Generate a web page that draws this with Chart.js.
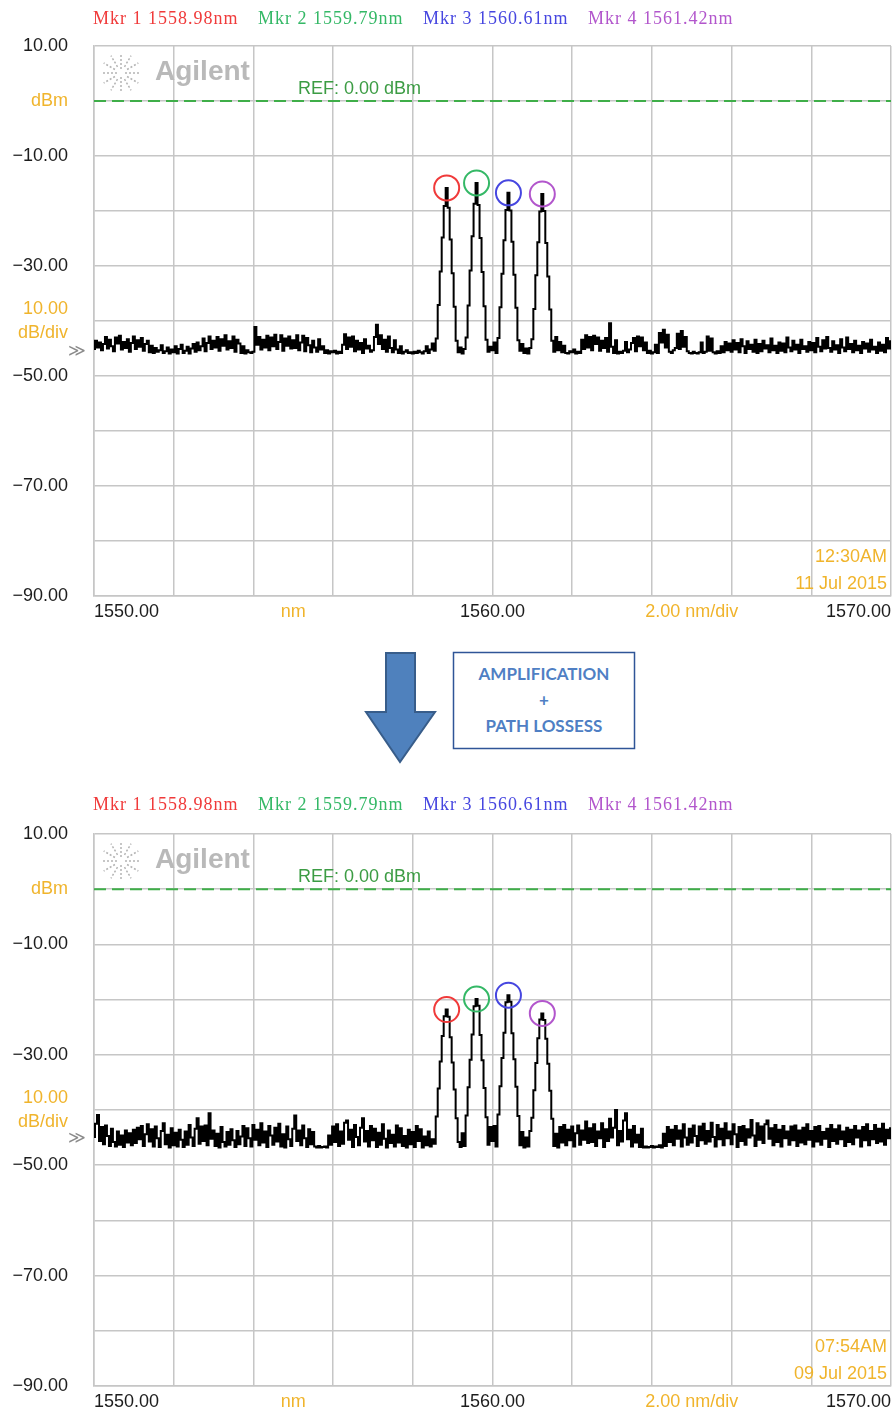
<!DOCTYPE html>
<html lang="en">
<head>
<meta charset="UTF-8">
<title>OSA spectra before / after</title>
<script src="https://cdn.jsdelivr.net/npm/chart.js"></script>
<style>
    body {
        margin: 0;
        width: 893px;
        height: 1414px;
        position: relative;
        overflow: hidden;
        background: #fff;
        font-family: 'Liberation Sans', Arial, sans-serif;
    }
    .panel {
        position: absolute;
        left: 0;
        width: 893px;
    }
    .panel canvas {
        display: block;
    }
    .mkr {
        position: absolute;
        font-family: 'Liberation Serif', serif;
        font-size: 18px;
        letter-spacing: 1px;
        line-height: 20px;
        white-space: nowrap;
    }
    #between {
        position: absolute;
        left: 0;
        top: 640px;
    }
</style>
</head>
<body>
<div class="panel" id="panel-before" style="top:0;height:630px">
    <canvas id="before" width="893" height="630"></canvas>
</div>
<svg id="between" width="893" height="140" viewBox="0 640 893 140">
    <polygon points="386,653 415,653 415,712 435,712 400,762 366,712 386,712"
             fill="#4f81bd" stroke="#385d8a" stroke-width="2"/>
    <rect x="453.5" y="652.5" width="181" height="96" fill="#fff" stroke="#2f5597" stroke-width="1.5"/>
    <g font-family="Lato, 'Open Sans', sans-serif" font-weight="700" font-size="17" fill="#4f7fc4" text-anchor="middle">
        <text x="544" y="680">AMPLIFICATION</text>
        <text x="544" y="706">+</text>
        <text x="544" y="732">PATH LOSSESS</text>
    </g>
</svg>
<div class="panel" id="panel-after" style="top:788px;height:626px">
    <canvas id="after" width="893" height="626"></canvas>
</div>

<script>
    // wavelength axis of the traces (nm)
    const wavelengthStart = 1550;
    const wavelengthStep = 0.05;

    // trace before amplification, dBm, one row per nm
    const traceBefore = [
        -45.1, -43.6, -44.8, -43.9, -45.3, -44.2, -42.9, -45.0, -43.4, -44.6, -45.5, -43.0, -44.1, -42.7, -45.2, -43.8, -44.9, -43.3, -45.6, -44.0,
        -42.8, -45.1, -43.5, -44.7, -43.1, -45.4, -44.2, -43.6, -45.7, -44.5, -45.8, -44.9, -45.6, -45.3, -44.4, -45.8, -45.5, -44.8, -45.9, -45.2,
        -45.7, -44.6, -45.9, -45.1, -44.3, -45.8, -45.4, -44.7, -45.9, -45.0, -44.2, -45.6, -43.9, -45.3, -44.6, -43.2, -45.5, -44.0, -42.8, -45.1,
        -43.6, -44.8, -42.9, -45.4, -43.3, -44.5, -42.6, -45.2, -43.7, -44.9, -42.8, -45.6, -43.4, -44.1, -45.8, -44.6, -45.9, -45.3, -45.7, -45.8,
        -45.6, -41.1, -44.3, -42.9, -45.2, -43.4, -44.8, -42.7, -45.3, -43.0, -44.6, -42.5, -45.1, -43.8, -42.6, -45.4, -43.2, -44.5, -42.8, -45.0,
        -43.5, -44.9, -42.6, -45.3, -43.9, -42.7, -45.5, -43.1, -44.4, -45.7, -43.6, -44.8, -45.6, -43.3, -45.2, -44.6, -45.8, -45.3, -45.9, -45.5,
        -45.7, -45.4, -45.9, -45.6, -45.8, -44.3, -42.4, -45.1, -43.0, -44.7, -42.8, -45.5, -43.6, -45.2, -44.0, -45.8, -43.3, -45.0, -44.5, -45.6,
        -45.3, -42.9, -40.7, -44.2, -42.6, -45.1, -43.4, -45.6, -42.8, -44.9, -45.7, -43.5, -45.2, -45.8, -44.6, -45.9, -45.6, -45.3, -45.8, -45.7,
        -45.9, -45.6, -45.8, -45.4, -45.7, -45.9, -45.5, -44.6, -45.8, -45.2, -44.1, -45.4, -43.2, -37.1, -31.0, -24.8, -19.1, -15.8, -19.4, -25.2,
        -31.3, -37.4, -43.6, -45.7, -44.8, -45.9, -45.1, -43.0, -37.2, -30.8, -24.6, -18.7, -14.9, -18.9, -24.9, -31.1, -37.3, -43.4, -45.6, -44.7,
        -45.3, -43.9, -45.8, -43.1, -37.5, -31.4, -25.3, -19.8, -16.7, -19.9, -25.6, -31.6, -37.6, -43.5, -45.4, -44.2, -45.8, -45.0, -45.9, -44.9,
        -43.3, -37.8, -31.7, -25.7, -20.1, -16.9, -20.0, -25.8, -31.9, -37.9, -43.6, -45.6, -42.9, -45.3, -43.8, -45.7, -44.5, -45.8, -45.9, -45.5,
        -45.7, -45.2, -45.9, -45.6, -45.8, -43.4, -45.1, -42.6, -44.8, -42.9, -45.3, -42.7, -44.2, -43.0, -45.4, -43.6, -44.9, -43.1, -45.6, -40.4,
        -44.7, -45.8, -43.5, -45.9, -45.6, -45.8, -45.4, -43.8, -45.7, -45.2, -44.0, -43.1, -45.5, -42.8, -44.6, -43.0, -45.3, -43.9, -45.8, -45.4,
        -45.9, -45.7, -44.3, -45.8, -42.2, -43.9, -41.6, -44.8, -42.5, -45.6, -45.8, -45.3, -44.9, -42.3, -45.1, -41.8, -44.7, -42.9, -45.5, -45.8,
        -45.9, -45.6, -45.8, -45.9, -45.7, -43.9, -45.8, -45.6, -42.8, -45.4, -43.2, -45.7, -45.9, -45.5, -45.8, -44.6, -45.7, -43.8, -45.3, -44.1,
        -45.6, -43.5, -45.2, -44.0, -45.7, -43.3, -44.6, -45.8, -43.7, -45.1, -44.3, -45.6, -43.4, -45.8, -44.2, -45.5, -43.6, -45.0, -44.4, -45.7,
        -43.2, -45.3, -44.5, -45.8, -43.9, -45.4, -44.1, -45.7, -43.0, -44.8, -45.5, -43.6, -45.2, -44.3, -45.8, -43.4, -45.1, -44.6, -45.6, -43.8,
        -45.3, -44.0, -45.7, -43.1, -44.7, -45.5, -43.5, -45.0, -42.9, -44.9, -45.6, -43.7, -45.2, -44.4, -45.8, -43.3, -44.8, -45.5, -43.0, -45.1,
        -44.2, -45.7, -43.6, -45.3, -44.5, -45.8, -43.8, -45.0, -44.1, -45.6, -43.4, -45.2, -44.7, -45.8, -43.9, -45.4, -44.3, -45.7, -43.1, -45.0,
        -43.7
    ];

    // trace after amplification + path losses, dBm
    const traceAfter = [
        -44.9, -42.5, -40.9, -45.6, -43.1, -46.2, -42.8, -44.7, -46.5, -43.4, -45.8, -46.6, -43.9, -46.3, -44.6, -46.7, -43.7, -45.9, -44.2, -46.4,
        -43.6, -46.0, -43.2, -45.3, -42.9, -46.5, -44.4, -42.6, -45.7, -43.5, -46.6, -43.0, -45.1, -46.7, -43.8, -42.4, -46.2, -44.5, -46.8, -43.3,
        -46.4, -44.1, -46.6, -43.6, -45.4, -46.7, -43.9, -46.3, -42.7, -45.0, -46.5, -43.4, -41.5, -46.1, -43.0, -45.6, -42.8, -46.4, -40.6, -45.2,
        -43.7, -46.5, -44.3, -46.8, -43.1, -45.8, -46.6, -44.0, -46.3, -43.5, -45.5, -46.7, -43.8, -46.2, -44.8, -42.9, -46.5, -43.3, -45.1, -46.6,
        -42.7, -45.4, -43.6, -46.4, -42.4, -45.9, -43.9, -46.7, -42.9, -44.6, -46.3, -43.2, -45.7, -42.5, -46.6, -44.4, -46.8, -43.0, -45.3, -46.5,
        -43.4, -41.0, -45.6, -43.7, -46.4, -42.8, -45.1, -46.7, -43.5, -46.2, -44.0, -46.6, -46.8, -46.5, -46.8, -46.7, -46.6, -46.8, -44.6, -46.3,
        -43.0, -45.8, -42.6, -46.5, -43.9, -46.1, -42.3, -41.9, -45.4, -43.6, -46.7, -42.7, -44.9, -46.4, -43.2, -41.5, -45.7, -43.8, -46.6, -42.9,
        -45.5, -43.4, -46.7, -44.1, -46.3, -42.6, -45.2, -46.8, -43.7, -46.0, -44.5, -46.6, -42.8, -45.9, -43.3, -46.5, -44.7, -46.8, -43.6, -46.2,
        -44.0, -46.7, -42.9, -45.6, -43.5, -46.8, -44.8, -46.4, -43.9, -46.6, -45.3, -46.1, -41.2, -36.1, -31.2, -26.6, -23.0, -21.8, -23.1, -26.8,
        -31.4, -36.3, -41.5, -45.8, -46.7, -44.2, -46.5, -41.0, -35.9, -30.9, -26.3, -21.2, -19.9, -21.1, -26.4, -31.0, -36.0, -41.3, -46.3, -43.1,
        -45.6, -42.9, -46.6, -40.8, -35.7, -30.6, -26.0, -20.5, -19.2, -20.4, -26.1, -30.8, -35.8, -41.1, -46.4, -44.0, -46.8, -45.0, -46.6, -43.8,
        -41.4, -36.4, -31.5, -27.0, -23.6, -22.5, -23.7, -27.1, -31.6, -36.5, -41.6, -46.5, -44.3, -46.8, -43.1, -45.9, -42.7, -46.4, -43.6, -45.5,
        -43.0, -46.6, -44.2, -42.8, -46.3, -43.7, -45.4, -42.1, -46.0, -43.3, -45.8, -42.6, -46.5, -43.9, -45.1, -42.4, -46.7, -43.5, -45.6, -41.6,
        -45.0, -43.2, -40.0, -46.4, -43.8, -45.7, -41.9, -40.6, -45.3, -43.6, -46.6, -42.9, -45.9, -44.5, -46.7, -43.4, -46.8, -46.6, -46.8, -46.7,
        -46.5, -46.8, -46.6, -46.7, -46.4, -46.8, -44.3, -46.5, -43.1, -45.8, -43.6, -46.4, -42.9, -45.2, -43.7, -46.6, -42.6, -45.0, -46.3, -43.4,
        -45.9, -42.8, -44.7, -46.5, -43.0, -45.5, -42.5, -46.1, -43.8, -45.7, -42.3, -44.9, -46.6, -42.7, -45.3, -43.4, -46.4, -42.4, -45.1, -43.9,
        -46.2, -42.6, -44.4, -46.7, -43.1, -45.6, -42.9, -46.3, -43.5, -45.0, -41.8, -44.6, -46.5, -42.4, -45.4, -43.0, -46.0, -42.6, -41.9, -45.2,
        -43.3, -46.4, -42.7, -45.8, -43.6, -46.6, -42.9, -45.1, -43.9, -46.3, -43.0, -45.5, -42.8, -46.5, -43.7, -45.9, -43.2, -46.2, -42.6, -45.4,
        -43.8, -46.6, -43.1, -45.7, -42.9, -46.3, -44.0, -45.2, -43.4, -46.7, -42.7, -45.6, -43.5, -46.1, -42.8, -45.3, -43.9, -46.5, -43.2, -45.8,
        -43.6, -46.2, -42.9, -45.0, -43.7, -46.6, -43.1, -45.5, -42.6, -46.4, -43.8, -45.3, -42.7, -46.0, -43.4, -45.7, -42.5, -46.3, -43.6, -45.1,
        -43.3
    ];

    // markers (wavelength where drawn on screen, level in dBm)
    const markerLabels = ['Mkr 1 1558.98nm', 'Mkr 2 1559.79nm', 'Mkr 3 1560.61nm', 'Mkr 4 1561.42nm'];
    const markerWavelengths = [1558.85, 1559.60, 1560.40, 1561.25];
    const markerLevelsBefore = [-15.8, -14.9, -16.7, -16.9];
    const markerLevelsAfter = [-21.8, -19.9, -19.2, -22.5];
    const markerColors = ['#f03a3a', '#34b866', '#4646e0', '#b256cc'];

    const refLevel = 0;
    const noiseLevelBefore = -45.6;
    const noiseLevelAfter = -45.1;

    const xTickValues = [1550, 1555, 1560, 1565, 1570];
    const xTickLabels = ['1550.00', 'nm', '1560.00', '2.00 nm/div', '1570.00'];
    const yTickValues = [10, 0, -10, -20, -30, -40, -50, -60, -70, -80, -90];
    const yTickLabels = ['10.00', 'dBm', '\u221210.00', '', '\u221230.00', ['10.00', 'dB/div'], '\u221250.00', '', '\u221270.00', '', '\u221290.00'];

    const stampBefore = ['12:30AM', '11 Jul 2015'];
    const stampAfter = ['07:54AM', '09 Jul 2015'];

    const orange = '#f0b42c';
    const black = '#1c1c1c';
    const gridColor = '#c6c6c6';
    const fontFamily = "'Liberation Sans', Arial, sans-serif";

    // orange tick labels are the unit captions, not numbers
    const orangeX = [1555, 1565];
    const orangeY = [0, -40];

    function addMarkerLegend(panelId, top) {
        const lefts = [93, 258, 423, 588];
        const panel = document.getElementById(panelId);
        markerLabels.forEach((txt, i) => {
            const d = document.createElement('div');
            d.className = 'mkr';
            d.style.left = lefts[i] + 'px';
            d.style.top = top + 'px';
            d.style.color = markerColors[i];
            d.textContent = txt;
            panel.appendChild(d);
        });
    }

    function makeChart(canvasId, trace, levels, stamp, noiseLevel, xAxisHeight) {
        const points = trace.map((v, i) => ({ x: wavelengthStart + i * wavelengthStep, y: v }));
        const marks = markerWavelengths.map((w, i) => ({ x: w, y: levels[i] }));

        const overlay = {
            id: 'overlay',
            beforeDatasetsDraw(chart) {
                const { ctx, chartArea: a } = chart;
                ctx.save();
                // Agilent spark + name
                const cx = a.left + 27, cy = a.top + 27;
                ctx.strokeStyle = '#b4b4b4';
                ctx.lineWidth = 1.5;
                ctx.setLineDash([2, 2]);
                for (let k = 0; k < 12; k++) {
                    const t = k * Math.PI / 6;
                    const r1 = k % 3 === 0 ? 4 : 7;
                    ctx.beginPath();
                    ctx.moveTo(cx + r1 * Math.cos(t), cy + r1 * Math.sin(t));
                    ctx.lineTo(cx + 20 * Math.cos(t), cy + 20 * Math.sin(t));
                    ctx.stroke();
                }
                ctx.setLineDash([]);
                ctx.fillStyle = '#b9b9b9';
                ctx.font = "bold 28px 'Liberation Sans'";
                ctx.textBaseline = 'middle';
                ctx.textAlign = 'left';
                ctx.fillText('Agilent', a.left + 61, a.top + 26);
                // time stamp
                ctx.fillStyle = orange;
                ctx.font = '18px ' + fontFamily;
                ctx.textAlign = 'right';
                ctx.fillText(stamp[0], a.right - 4, a.bottom - 39);
                ctx.fillText(stamp[1], a.right - 4, a.bottom - 12);
                ctx.restore();
            },
            afterDatasetsDraw(chart) {
                const { ctx, chartArea: a, scales } = chart;
                ctx.save();
                ctx.textBaseline = 'middle';
                ctx.textAlign = 'left';
                ctx.fillStyle = '#3c9c44';
                ctx.font = '18px ' + fontFamily;
                ctx.fillText('REF: ' + refLevel.toFixed(2) + ' dBm', a.left + 204, scales.y.getPixelForValue(refLevel) - 12);
                ctx.fillStyle = '#8a8a8a';
                ctx.font = "17px 'DejaVu Sans'";
                ctx.textAlign = 'center';
                ctx.fillText('\u226B', a.left - 17, scales.y.getPixelForValue(noiseLevel));
                ctx.restore();
            }
        };

        return new Chart(document.getElementById(canvasId), {
            type: 'line',
            data: {
                datasets: [
                    {
                        label: 'markers',
                        data: marks,
                        showLine: false,
                        pointRadius: 12.5,
                        pointHoverRadius: 12.5,
                        pointBorderWidth: 2,
                        pointBorderColor: markerColors,
                        pointBackgroundColor: 'rgba(0,0,0,0)'
                    },
                    {
                        label: 'trace',
                        data: points,
                        borderColor: '#000',
                        borderWidth: 2,
                        stepped: 'middle',
                        pointRadius: 0
                    },
                    {
                        label: 'ref',
                        data: [{ x: 1550, y: refLevel }, { x: 1570, y: refLevel }],
                        borderColor: '#3fae49',
                        borderWidth: 2,
                        borderDash: [12, 6],
                        pointRadius: 0
                    }
                ]
            },
            options: {
                responsive: false,
                animation: false,
                events: [],
                layout: { autoPadding: false, padding: { top: 46, right: 2, left: 0, bottom: 0 } },
                plugins: { legend: { display: false }, tooltip: { enabled: false } },
                scales: {
                    x: {
                        type: 'linear',
                        min: 1550,
                        max: 1570,
                        afterFit: (s) => {
                            s.height = xAxisHeight;
                            s.paddingLeft = 0;
                            s.paddingRight = 0;
                        },
                        border: { color: gridColor, width: 1.5 },
                        grid: {
                            drawTicks: false,
                            lineWidth: 1.5,
                            color: (c) => (c.tick && Math.round(c.tick.value) % 2 === 0) ? gridColor : 'rgba(0,0,0,0)'
                        },
                        ticks: {
                            stepSize: 1,
                            autoSkip: false,
                            maxRotation: 0,
                            align: 'inner',
                            padding: 5,
                            font: { family: fontFamily, size: 18 },
                            color: (c) => orangeX.includes(Math.round(c.tick.value)) ? orange : black,
                            callback: (v) => {
                                const i = xTickValues.indexOf(Math.round(v * 100) / 100);
                                return i >= 0 ? xTickLabels[i] : '';
                            }
                        }
                    },
                    y: {
                        min: -90,
                        max: 10,
                        afterFit: (s) => {
                            s.width = 94;
                            s.paddingTop = 0;
                            s.paddingBottom = 0;
                        },
                        border: { color: gridColor, width: 1.5 },
                        grid: { drawTicks: false, lineWidth: 1.5, color: gridColor },
                        ticks: {
                            stepSize: 10,
                            padding: 26,
                            font: { family: fontFamily, size: 18, lineHeight: 1.33 },
                            color: (c) => orangeY.includes(Math.round(c.tick.value)) ? orange : black,
                            callback: (v) => {
                                const i = yTickValues.indexOf(Math.round(v));
                                return i >= 0 ? yTickLabels[i] : '';
                            }
                        }
                    }
                }
            },
            plugins: [overlay]
        });
    }

    addMarkerLegend('panel-before', 8);
    addMarkerLegend('panel-after', 6);
    makeChart('before', traceBefore, markerLevelsBefore, stampBefore, noiseLevelBefore, 34);
    makeChart('after', traceAfter, markerLevelsAfter, stampAfter, noiseLevelAfter, 28);
</script>
</body>
</html>
